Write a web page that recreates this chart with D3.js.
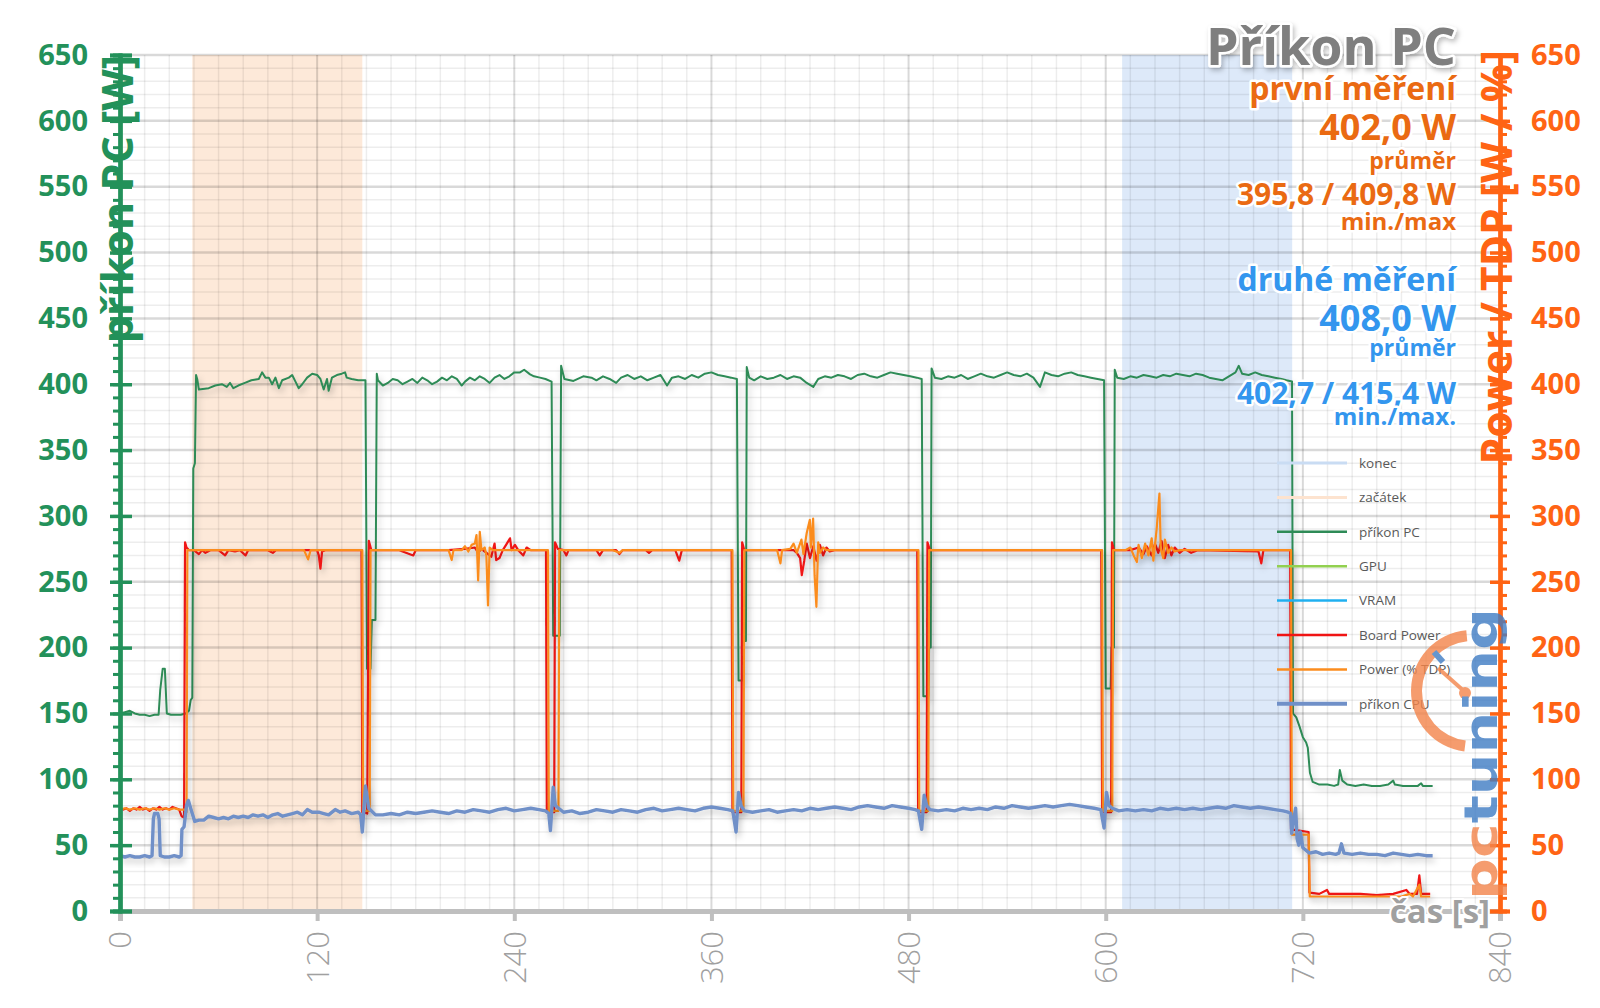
<!DOCTYPE html>
<html><head><meta charset="utf-8">
<script src="https://cdn.jsdelivr.net/npm/d3@7"></script>
<style>
body{margin:0;background:#fff}
svg{display:block}
text{font-family:"Open Sans","Noto Sans",sans-serif}
</style></head>
<body><svg id="c" width="1600" height="1008"></svg>
<script>
// ---------------- DATA ----------------
const xTicks = [0,120,240,360,480,600,720,840];
const yTicks = [0,50,100,150,200,250,300,350,400,450,500,550,600,650];
const bandStart = [44,147.5];   // "začátek"
const bandEnd = [610,713.5];    // "konec"

const pcPower = [
[0,150],[3,151],[6,152],[9,150],[12,149],[15,149],[18,148],[21,149],[23.5,149],[24.5,168],[26,184],[27.3,184],[28.5,150],[31,149],[34,149],[37,149],[40,150],[42,152],[43,160],[44,162],[44.6,336],[45.6,340],[46.3,407],[47,404],[48,396],[54,397],[58,399],[62,400],[65,398],[67,401],[69,397],[72,399],[76,401],[80,403],[84.5,404],[86.5,409],[88.5,405],[90.6,405],[92.6,400],[94.6,405],[96.7,397],[98.7,403],[102.8,405],[104.8,407],[106.8,402],[108.8,397],[110.9,400],[113.9,405],[117,408],[120,407],[122,404],[124,396],[126,404],[127,395],[129,405],[132,407],[135,408],[137,409],[138,405],[141,404],[145,403],[149.4,403],[150.4,184],[152.5,184],[153.3,221],[155.5,221],[156.3,408],[157,403],
[160,399],[163,401],[166,404],[169,403],[172,400],[175,402],[178,404],[181,401],[184,405],[187,403],[190,400],[193,402],[196,405],[199,403],[202,406],[205,404],[208,399],[210,402],[213,405],[216,403],[219,406],[222,404],[225,401],[228,405],[231,407],[234,404],[237,406],[240,409],[243.5,409],[246,411],[249.6,407.5],[252,406],[255.6,405],[259,404],[262.7,402],[263.7,209],[267.7,209],[268.5,414],[270.5,404],[276,402.5],[282,406],[287,405],
[290,403],[294,406],[298,404],[302,401],[305,405],[309,407],[313,404],[317,406],[321,403],[325,405],[329,407],[333,399],[336,405],[340,406],[344,404],[348,407],[352,405],[356,408],[360,409],[364,407],[368,406],[372,405],[375.5,404],[376.5,175],[379,175],[379.5,205],[381,205],[381.5,413],[383,405],
[386,403],[390,406],[394,404],[398,405],[402,407],[406,404],[410,406],[414,405],[418,401],[422,398],[425,404],[429,406],[433,405],[437,407],[441,406],[445,404],[449,407],[453,408],[457,406],[461,405],[465,407],[469,409],[473,408],[477,407],[481,406],[485,405],[488,404],[489,163],[492,163],[492.5,200],[493.5,200],[494,412],[496,405],
[500,404],[504,406],[508,405],[512,407],[516,404],[520,406],[524,408],[528,406],[532,405],[536,407],[540,409],[544,407],[548,406],[552,408],[556,405],[560,398],[563,409],[567,407],[571,406],[575,408],[579,409],[583,407],[587,406],[591,405],[595,404],[599,403],[600,169],[603,169],[603.5,200],[605,200],[605.5,411],[607,405],
[611,404],[615,406],[619,405],[623,407],[627,406],[631,405],[635,407],[639,406],[643,408],[647,407],[651,406],[655,408],[659,407],[663,405],[667,404],[671,403],[675,406],[679,409],[681,414],[683,408],[687,407],[691,409],[695,407],[699,406],[703,405],[707,404],[710,403],[713.4,402],
[714,150],[716,147],[718,140],[720,132],[722,128],[723,124],[724.3,105],[726,98],[730,96],[735,96],[739,95],[741.5,96],[742.5,107],[744,99],[747,96],[752,95],[757,96],[762,95],[767,95],[772,96],[775,99],[776,96],[781,95],[786,95],[790,95],[792,97],[793,95],[799,95]
];

const boardPower = [
[0,78],[2,77],[4,78],[6,76],[8,78],[10,77],[12,79],[14,77],[16,78],[18,76],[20,78],[22,77],[24,79],[26,77],[28,78],[30,77],[32,79],[34,78],[36,77],[37.5,72],[39,71],[39.6,280],[40.5,276],[42,274],[45,274],[48,271],[50,274],[52,272],[55,274],[60,274],[64,270],[66,274],[70,273],[73,274],[76.4,270],[78,274],[85,274],[90,274],[93,272],[95,274],[110,274],[120,274],[121,270],[122,260],[123,273],[125,274],[147,274],[147.5,75],[150.5,74],[151.5,281],[153,274],
[170,274],[178.5,270],[180,274],[200,274],[210,275],[216,276],[218,272],[220,275],[224,271],[226,269],[228,279],[229,266.5],[231,268],[233,274],[235,278],[237.4,283],[238.4,274],[240.4,278],[242.4,274],[245.5,270],[247.5,276],[250,274],[259.3,274],[259.8,75],[264.3,75],[264.8,280],[266.5,275],[270,274],[271.7,270],[273,274],
[290,274],[292,270],[294,274],[302,274],[304,271],[306,274],[320,274],[322,272],[324,274],[338,274],[340.4,266],[342,274],[360,274],[372.3,274],[372.8,75],[378.2,75],[378.7,280],[380,274],
[400,274],[410,274],[412,272],[414,268],[415,255],[416.5,266],[418,279],[420,268],[422,277],[424,266],[426,278],[428,270],[430,276],[432,273],[435,274],[485.3,274],[485.8,75],[491,75],[491.5,280],[493,274],
[597.3,274],[597.8,75],[603.3,75],[603.8,280],[605,274],
[615,274],[620,276],[623,271],[625,277],[628,270],[630,279],[632,272],[634,281],[636,268],[638,278],[640,270],[642,276],[645,272],[648,275],[652,272],[656,274],[693,273],[694.7,264],[696,274],[712.3,274],[712.8,62],[723.5,60],[724,14],[730,13],[734.7,16],[736,13],[745,13],[755,13],[765,12],[775,13],[783,16],[785,13],[789.5,13],[790.9,27],[792,13],[797.5,13]
];

const tdpPower = [
[0,77],[3,78],[6,77],[9,78],[12,77],[15,78],[18,77],[21,78],[24,77],[27,78],[30,77],[33,78],[36,77],[39.5,77],[40.5,75],[41,274],[112,274],[114.5,267],[116,274],[147.5,274],[148,76],[152,76],[152.5,274],
[200,274],[201.9,266.5],[203,274],[207.9,274],[210,277],[212,273],[214,278],[216,279],[217,285.5],[218,251],[219,288],[220,274],[222,276],[223,270],[224,232],[225,276],[227,274],[260.5,274],[261,76],[266.9,76],[267.4,274],
[300,274],[304,272],[306,274],[372.8,274],[373.3,76],[379.5,76],[380,274],
[400,274],[402,264],[403,274],[408,275],[410,279],[412,272],[414.8,282],[416,271],[418,287],[419.9,297],[420.5,276],[421.9,298],[422.8,255],[423.9,231],[425,280],[426,272],[428,276],[430,274],[486,274],[486.5,76],[492,76],[492.5,274],
[597.8,274],[598.3,76],[604,76],[604.5,274],
[612,274],[615,276],[617,270],[619,265],[620,278],[622,268],[624,279],[626,270],[628,283],[629,266],[631,290],[632.7,317],[633.5,275],[635,268],[636,282],[638,272],[640,276],[642,273],[645,274],[712.8,274],[713.3,58],[723.6,58],[724.2,11],[730,11],[740,11],[750,11],[760,11],[770,11],[780,11],[785,13],[787,11],[790.9,20],[792,11],[797.5,11]
];

const cpuPower = [
[0,42],[3,41],[6,42],[9,41],[12,41],[15,42],[18,41],[19.5,42],[20.3,70],[21,74],[23,74],[23.8,70],[24.5,42],[27,41],[30,41],[33,42],[36,41],[37.2,42],[37.7,62],[39,64],[40.5,80],[41.6,84],[43,78],[45.5,68],[48,69],[51,69],[54,72],[57,71],[60,70],[63,71],[66,70],[69,72],[72,71],[75,72],[78,71],[81,73],[84,72],[87,73],[90,71],[93,73],[96,74],[99,72],[102,73],[105,74],[108,75],[111,73],[114,77],[117,75],[121,75],[124,74],[127,73],[131,77],[134,75],[137,76],[141,74],[145,75],[146.5,73],[147.5,60],[149.4,95],[151.4,78],[155.5,73],
[160,73],[165,74],[170,73],[175,75],[180,74],[185,75],[190,76],[195,75],[200,74],[205,76],[210,75],[215,77],[220,76],[225,75],[230,77],[235,78],[240,76],[245,77],[250,78],[255,77],[259,76],[261,74],[262,61],[263.7,94],[265,80],[267,78],[270,75],
[275,76],[280,74],[285,75],[290,77],[295,76],[300,75],[305,77],[310,76],[315,75],[320,77],[325,78],[330,76],[335,77],[340,78],[345,77],[350,76],[355,78],[360,79],[365,78],[370,77],[373,76],[375,60],[376.5,90],[378,80],[380,76],
[385,75],[390,76],[395,77],[400,75],[405,76],[410,77],[415,76],[420,78],[425,77],[430,78],[435,79],[440,78],[445,77],[450,79],[455,80],[460,79],[465,78],[470,80],[475,79],[480,78],[484,77],[486,76],[488,62],[489.5,88],[491,80],[493,77],
[498,76],[503,77],[508,76],[513,78],[518,77],[523,78],[528,77],[533,79],[538,78],[543,80],[548,79],[553,78],[558,79],[563,80],[568,79],[573,80],[578,81],[583,80],[588,79],[593,78],[597,77],[599,63],[600.5,90],[602,80],[604,78],
[608,76],[613,77],[618,76],[623,77],[628,76],[633,78],[638,77],[643,78],[648,77],[653,78],[658,77],[663,78],[668,79],[673,78],[678,80],[683,79],[688,78],[693,79],[698,78],[703,77],[708,76],[711,75],[712.6,74],[713.2,59],[714.2,68],[715.6,78],[716.5,55],[717.5,50],[718.5,60],[720,48],[722,46],[724,44],[728,45],[732,43],[736,44],[740,43],[742,44],[743.5,51],[745,44],[750,43],[755,44],[760,43],[765,43],[770,42],[775,44],[780,43],[785,42],[790,43],[795,42],[799,42]
];

const legendNames = ["konec","začátek","příkon PC","GPU","VRAM","Board Power","Power (% TDP)","příkon CPU"];
const legendColors = ["#c9dcf3","#fde3cf","#2e8b57","#92d050","#20b0f0","#f01414","#fb8c1e","#7090c8"];
const legendWidths = [3,3,2.5,2.5,2.5,2.5,2.5,4];

// ---------------- CHART ----------------
const svg = d3.select("#c");
const X0 = 120, X1 = 1500, Y0 = 911, Y1 = 55;
const x = d3.scaleLinear().domain([0,840]).range([X0,X1]);
const yL = d3.scaleLinear().domain([0,650]).range([Y0,Y1]);
const yR = d3.scaleLinear().domain([0,650]).range([Y0,Y1]);

const defs = svg.append("defs");
const f = defs.append("filter").attr("id","sh").attr("x","-5%").attr("y","-5%").attr("width","110%").attr("height","120%");
f.append("feDropShadow").attr("dx",2).attr("dy",4).attr("stdDeviation",3).attr("flood-color","#000").attr("flood-opacity",0.22);
const ft = defs.append("filter").attr("id","tsh").attr("x","-10%").attr("y","-20%").attr("width","120%").attr("height","150%");
ft.append("feDropShadow").attr("dx",2).attr("dy",3).attr("stdDeviation",2.5).attr("flood-color","#000").attr("flood-opacity",0.25);

// bands
svg.append("rect").attr("x",x(bandStart[0])).attr("width",x(bandStart[1])-x(bandStart[0]))
  .attr("y",Y1).attr("height",Y0-Y1).attr("fill","#fde9d9");
svg.append("rect").attr("x",x(bandEnd[0])).attr("width",x(bandEnd[1])-x(bandEnd[0]))
  .attr("y",Y1).attr("height",Y0-Y1).attr("fill","#dde9f9");

// grid
const g = svg.append("g");
d3.range(0,841,15).filter(v=>v%120!==0).forEach(v=>{
  g.append("line").attr("x1",x(v)).attr("x2",x(v)).attr("y1",Y1).attr("y2",Y0).attr("stroke","rgba(0,0,0,0.07)").attr("stroke-width",1.5);
});
d3.range(0,651,10).filter(v=>v%50!==0).forEach(v=>{
  g.append("line").attr("x1",X0).attr("x2",X1).attr("y1",yL(v)).attr("y2",yL(v)).attr("stroke","rgba(0,0,0,0.07)").attr("stroke-width",1.5);
});
xTicks.forEach(v=>{
  g.append("line").attr("x1",x(v)).attr("x2",x(v)).attr("y1",Y1).attr("y2",Y0).attr("stroke","rgba(0,0,0,0.15)").attr("stroke-width",2);
});
yTicks.forEach(v=>{
  g.append("line").attr("x1",X0).attr("x2",X1).attr("y1",yL(v)).attr("y2",yL(v)).attr("stroke","rgba(0,0,0,0.15)").attr("stroke-width",2.5);
});

// lines
const lineL = d3.line().x(d=>x(d[0])).y(d=>yL(d[1]));
const lineR = d3.line().x(d=>x(d[0])).y(d=>yR(d[1]));
const lg = svg.append("g").attr("fill","none").attr("stroke-linejoin","round");
lg.append("path").datum(pcPower).attr("d",lineL).attr("stroke","#2e8b57").attr("stroke-width",2).attr("filter","url(#sh)");
lg.append("path").datum(boardPower).attr("d",lineR).attr("stroke","#f01414").attr("stroke-width",2.2).attr("filter","url(#sh)");
lg.append("path").datum(tdpPower).attr("d",lineR).attr("stroke","#fb8c1e").attr("stroke-width",2.2).attr("filter","url(#sh)");
lg.append("path").datum(cpuPower).attr("d",lineL).attr("stroke","#7090c8").attr("stroke-width",3.4).attr("filter","url(#sh)");

// x axis
const xa = svg.append("g").attr("transform",`translate(0,${Y0})`)
  .call(d3.axisBottom(x).tickValues(xTicks).tickSize(10).tickFormat(d3.format("d")));
xa.select(".domain").attr("stroke","#bfbfbf").attr("stroke-width",5);
xa.selectAll(".tick line").attr("stroke","#bfbfbf").attr("stroke-width",4);
xa.selectAll(".tick text").attr("transform","rotate(-90)").attr("x",-20).attr("y",0).attr("dy","0.35em")
  .attr("text-anchor","end").attr("fill","#a0a0a0").style("font-size","31px").style("font-weight","300")
  .style("font-family","'Open Sans','Noto Sans',sans-serif");

// left axis
const green = "#23915a";
const la = svg.append("g").attr("transform",`translate(${X0},0)`);
la.call(d3.axisLeft(yL).tickValues(d3.range(0,651,10)).tickSize(7).tickFormat(""));
la.call(g2=>g2.selectAll(".tick line").attr("stroke",green).attr("stroke-width",3));
const la2 = svg.append("g").attr("transform",`translate(${X0},0)`)
  .call(d3.axisLeft(yL).tickValues(yTicks).tickSize(10).tickPadding(22));
la2.selectAll(".tick line").attr("stroke",green).attr("stroke-width",3.5);
la2.selectAll(".tick text").attr("fill",green).style("font-size","29px").style("font-weight","700");
const la3 = svg.append("g").attr("transform",`translate(${X0},0)`)
  .call(d3.axisRight(yL).tickValues(yTicks).tickSize(12).tickFormat(""));
la3.selectAll(".tick line").attr("stroke",green).attr("stroke-width",3.5);
[la,la2,la3].forEach(a=>a.select(".domain").attr("stroke",green).attr("stroke-width",4));

// right axis
const orange = "#ff6414";
const ra = svg.append("g").attr("transform",`translate(${X1},0)`);
ra.call(d3.axisRight(yR).tickValues(d3.range(0,651,10)).tickSize(7).tickFormat(""));
ra.selectAll(".tick line").attr("stroke",orange).attr("stroke-width",3);
const ra2 = svg.append("g").attr("transform",`translate(${X1},0)`)
  .call(d3.axisRight(yR).tickValues(yTicks).tickSize(10).tickPadding(21));
ra2.selectAll(".tick line").attr("stroke",orange).attr("stroke-width",3.5);
ra2.selectAll(".tick text").attr("fill",orange).style("font-size","29px").style("font-weight","700");
const ra3 = svg.append("g").attr("transform",`translate(${X1},0)`)
  .call(d3.axisLeft(yR).tickValues(yTicks).tickSize(10).tickFormat(""));
ra3.selectAll(".tick line").attr("stroke",orange).attr("stroke-width",3.5);
[ra,ra2,ra3].forEach(a=>a.select(".domain").attr("stroke",orange).attr("stroke-width",4));

// axis titles
svg.append("text").attr("transform","translate(133,55) rotate(-90)").attr("text-anchor","end")
  .attr("fill",green).style("font-size","43px").style("font-weight","700").text("příkon PC [W]");
svg.append("text").attr("transform","translate(1512,50) rotate(-90)").attr("text-anchor","end")
  .attr("fill",orange).style("font-size","42.5px").style("font-weight","700").text("Power / TDP [W / %]");
svg.append("text").attr("x",1490).attr("y",923).attr("text-anchor","end").attr("fill","#a0a0a0")
  .attr("stroke","#fff").attr("stroke-width",4).attr("paint-order","stroke")
  .style("font-size","33px").style("font-weight","700").text("čas [s]");

// legend
const leg = svg.append("g");
legendNames.forEach((n,i)=>{
  const yy = 463 + i*34.4;
  leg.append("line").attr("x1",1277).attr("x2",1347).attr("y1",yy).attr("y2",yy)
    .attr("stroke",legendColors[i]).attr("stroke-width",legendWidths[i]);
  leg.append("text").attr("x",1359).attr("y",yy).attr("dy","0.35em").attr("fill","#595959")
    .style("font-size","13.5px").text(n);
});

// logo watermark
const logo = svg.append("g").attr("opacity",0.8);
const arc = d3.arc().innerRadius(50).outerRadius(61).startAngle(Math.PI*1.04).endAngle(Math.PI*1.97);
logo.append("path").attr("d",arc).attr("transform","translate(1472,691)").attr("fill","#f3844a");
logo.append("line").attr("x1",1438).attr("y1",668).attr("x2",1465).attr("y2",692).attr("stroke","#f3844a").attr("stroke-width",4);
logo.append("circle").attr("cx",1465).attr("cy",693).attr("r",6).attr("fill","#f3844a");
logo.append("line").attr("x1",1434).attr("y1",652).attr("x2",1443).attr("y2",662).attr("stroke","#3f7cc4").attr("stroke-width",6);
const lt = logo.append("text").attr("transform","translate(1497,900) rotate(-90)")
  .style("font-family","'DejaVu Sans',sans-serif").style("font-size","46px").style("font-weight","700")
  .attr("textLength",292).attr("lengthAdjust","spacingAndGlyphs");
lt.append("tspan").attr("fill","#f3844a").text("pc");
lt.append("tspan").attr("fill","#3f7cc4").text("tuning");

// title block
const tb = svg.append("g").attr("text-anchor","end").attr("stroke","#fff").attr("stroke-width",5)
  .attr("paint-order","stroke").attr("stroke-linejoin","round").style("font-weight","700");
const oT = "#ea6a12", bT = "#3396ee";
const lines = [
  ["Příkon PC",65,52,"#7f7f7f"],
  ["první měření",100,32,oT],
  ["402,0 W",140,36,oT],
  ["průměr",169,23,oT],
  ["395,8 / 409,8 W",205,30,oT],
  ["min./max",230,24,oT],
  ["druhé měření",291,32,bT],
  ["408,0 W",331,36,bT],
  ["průměr",356,23,bT],
  ["402,7 / 415,4 W",404,30,bT],
  ["min./max.",425,24,bT]
];
lines.forEach((l,i)=>{
  const t = tb.append("text").attr("x",1456).attr("y",l[1]).attr("fill",l[3]).style("font-size",l[2]+"px").text(l[0]);
  if(i===0) t.attr("filter","url(#tsh)");
});
</script>
</body></html>
